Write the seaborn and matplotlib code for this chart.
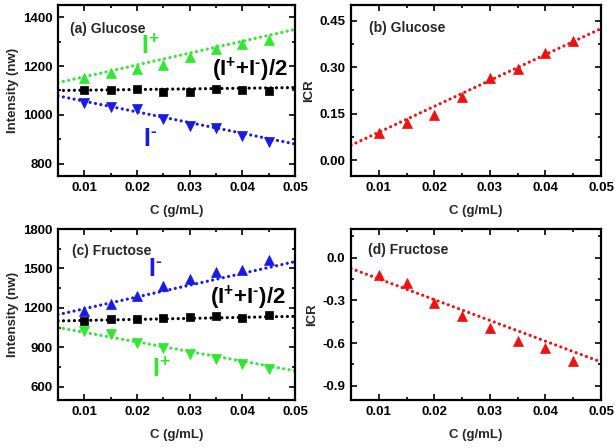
import numpy as np
import pandas as pd
import matplotlib
matplotlib.use("Agg")
import matplotlib.pyplot as plt
from matplotlib.ticker import MultipleLocator, FormatStrFormatter
import seaborn as sns

sns.set_theme(style="ticks")
plt.rcParams['font.family'] = ['Liberation Sans', 'DejaVu Sans']
plt.rcParams['font.weight'] = 'bold'
plt.rcParams['mathtext.default'] = 'regular'
plt.rcParams['axes.unicode_minus'] = False

conc = [0.010, 0.015, 0.020, 0.025, 0.030, 0.035, 0.040, 0.045]

# (a) Glucose
glu_plus = [1150, 1170, 1187, 1204, 1237, 1270, 1292, 1308]
glu_mean = [1101, 1101, 1106, 1095, 1095, 1106, 1101, 1098]
glu_minus = [1048, 1033, 1024, 984, 953, 947, 912, 891]
# (b) Glucose ICR
glu_icr = [0.088, 0.120, 0.145, 0.203, 0.264, 0.293, 0.346, 0.384]
# (c) Fructose
fru_minus = [1174, 1232, 1294, 1369, 1422, 1475, 1490, 1565]
fru_mean = [1104, 1119, 1116, 1124, 1134, 1139, 1121, 1146]
fru_plus = [1026, 1001, 931, 894, 851, 813, 776, 733]
# (d) Fructose ICR
fru_icr = [-0.121, -0.181, -0.321, -0.414, -0.495, -0.586, -0.635, -0.726]

# linear fit lines, read at the ends of the concentration range
fit_x = [0.005, 0.05]
fit_glu_plus = [1132, 1350]
fit_glu_mean = [1100, 1112]
fit_glu_minus = [1078, 881]
fit_glu_icr = [0.049, 0.424]
fit_fru_minus = [1149, 1552]
fit_fru_mean = [1101, 1136]
fit_fru_plus = [1051, 722]
fit_fru_icr = [-0.077, -0.733]

GREEN = '#2fe82f'
BLUE = '#1a1ae6'
RED = '#ee1111'
BLACK = '#000000'

W, H = 615, 448
fig = plt.figure(figsize=(W / 100, H / 100), dpi=100)

def rect(l, r, t, b):
    return [l / W, 1 - b / H, (r - l) / W, (b - t) / H]

axa = fig.add_axes(rect(58, 295, 5, 176))
axb = fig.add_axes(rect(351, 601, 5, 176))
axc = fig.add_axes(rect(58, 295, 229, 400))
axd = fig.add_axes(rect(351, 601, 229, 400))

dot = (0, (0.01, 1.7))

def series(ax, y, fit, color, marker, s):
    sns.lineplot(x=fit_x, y=fit, ax=ax, color=color, lw=2.3,
                 linestyle=dot, dash_capstyle='round', zorder=2, legend=False)
    sns.scatterplot(x=conc, y=y, ax=ax, color=color, marker=marker,
                    s=s, edgecolor=color, linewidth=0.5, zorder=3, legend=False)

series(axa, glu_plus, fit_glu_plus, GREEN, '^', 52)
series(axa, glu_mean, fit_glu_mean, BLACK, 's', 32)
series(axa, glu_minus, fit_glu_minus, BLUE, 'v', 52)
series(axb, glu_icr, fit_glu_icr, RED, '^', 52)
series(axc, fru_minus, fit_fru_minus, BLUE, '^', 52)
series(axc, fru_mean, fit_fru_mean, BLACK, 's', 32)
series(axc, fru_plus, fit_fru_plus, GREEN, 'v', 52)
series(axd, fru_icr, fit_fru_icr, RED, '^', 52)

axa.set_ylim(750, 1450)
axb.set_ylim(-0.05, 0.5)
axc.set_ylim(500, 1800)
axd.set_ylim(-1.0, 0.2)

cfg = {
    axa: (200, 100, '%d', 'Intensity (nw)'),
    axb: (0.15, 0.075, '%.2f', 'ICR'),
    axc: (300, 150, '%d', 'Intensity (nw)'),
    axd: (0.3, 0.15, '%.1f', 'ICR'),
}
for ax, (maj, mnr, fmt, ylab) in cfg.items():
    ax.set_xlim(0.005, 0.05)
    ax.xaxis.set_major_locator(MultipleLocator(0.01))
    ax.xaxis.set_minor_locator(MultipleLocator(0.005))
    ax.xaxis.set_major_formatter(FormatStrFormatter('%.2f'))
    ax.yaxis.set_major_locator(MultipleLocator(maj))
    ax.yaxis.set_minor_locator(MultipleLocator(mnr))
    ax.yaxis.set_major_formatter(FormatStrFormatter(fmt))
    ax.tick_params(which='both', direction='in', top=True, right=True,
                   width=1.2, labelsize=9.5, pad=4, colors='black')
    ax.tick_params(which='major', length=4)
    ax.tick_params(which='minor', length=2.5)
    for lbl in ax.get_xticklabels() + ax.get_yticklabels():
        lbl.set_fontweight('bold')
    for sp in ax.spines.values():
        sp.set_visible(True)
        sp.set_linewidth(1.6)
        sp.set_color('black')
    ax.set_xlabel('C (g/mL)', fontsize=9.5, fontweight='bold', labelpad=8)
    ax.set_ylabel(ylab, fontsize=9.5, fontweight='bold', labelpad=3)
    ax.set_facecolor('white')

def ftext(x, y, s, **kw):
    fig.text(x / W, 1 - y / H, s, **kw)

lab = dict(fontsize=10, fontweight='bold', va='center')
ftext(70, 29, '(a) Glucose', **lab)
ftext(369, 28, '(b) Glucose', **lab)
ftext(72, 251, '(c) Fructose', **lab)
ftext(368, 250, '(d) Fructose', **lab)

HY = '\u2010'
big = dict(fontsize=16, fontweight='bold', va='center')
one = dict(fontsize=18, fontweight='bold', va='center')
ftext(141, 47, 'I$^{+}$', color=GREEN, **one)
ftext(212, 70, '(I$^{+}$+I$^{' + HY + '}$)/2', color=BLACK, **big)
ftext(143, 139, 'I$^{' + HY + '}$', color=BLUE, **one)
ftext(148, 269, 'I$^{' + HY + '}$', color=BLUE, **one)
ftext(210, 298, '(I$^{+}$+I$^{' + HY + '}$)/2', color=BLACK, **big)
ftext(152, 370, 'I$^{+}$', color=GREEN, **one)

fig.savefig('out.png', dpi=100, facecolor='white')
